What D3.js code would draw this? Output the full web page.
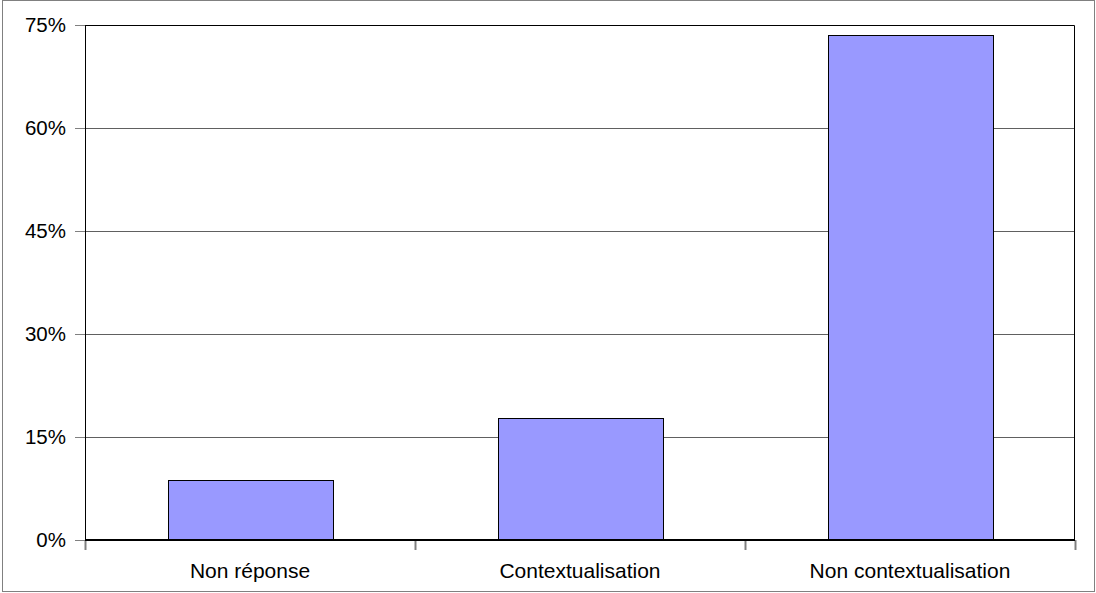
<!DOCTYPE html>
<html>
<head>
<meta charset="utf-8">
<script src="https://cdn.jsdelivr.net/npm/d3@7"></script>
<style>
  body { margin: 0; background: #fff; }
  svg { display: block; font-family: "Liberation Sans", Arial, sans-serif; }
</style>
</head>
<body>
<svg id="chart" width="1096" height="593"></svg>
<script>
// values, in %
var categories = ["Non réponse", "Contextualisation", "Non contextualisation"];
var values = [8.8, 17.7, 73.5];
var yTicks = [0, 15, 30, 45, 60, 75];

var width = 1096, height = 593;
var margin = {top: 25, right: 21, bottom: 53, left: 85};
var plotW = width - margin.left - margin.right;
var plotH = height - margin.top - margin.bottom;

var svg = d3.select("#chart");

// outer frame
svg.append("rect")
    .attr("x", 2.5).attr("y", 0.5)
    .attr("width", 1092).attr("height", 591)
    .attr("fill", "none")
    .attr("stroke", "#808080");

var g = svg.append("g")
    .attr("transform", "translate(" + margin.left + "," + margin.top + ")");

var xScale = d3.scaleBand()
    .domain(categories)
    .range([0, plotW])
    .paddingInner(0.5)
    .paddingOuter(0.25);

var yScale = d3.scaleLinear()
    .domain([0, 75])
    .range([plotH, 0]);

// gridlines
g.selectAll(".grid")
    .data(yTicks.slice(1, -1))
  .enter().append("line")
    .attr("class", "grid")
    .attr("x1", 0).attr("x2", plotW)
    .attr("y1", function(d) { return Math.round(yScale(d)) + 0.5; })
    .attr("y2", function(d) { return Math.round(yScale(d)) + 0.5; })
    .attr("stroke", "#606060");

// plot border top + right
g.append("path")
    .attr("d", "M0.5,0.5 H" + (plotW - 0.5) + " V" + plotH)
    .attr("fill", "none")
    .attr("stroke", "#000");

// bars
g.selectAll(".bar")
    .data(values)
  .enter().append("rect")
    .attr("class", "bar")
    .attr("x", function(d, i) { return Math.round(xScale(categories[i])) + 0.5; })
    .attr("y", function(d) { return Math.round(yScale(d)) + 0.5; })
    .attr("width", Math.round(xScale.bandwidth()))
    .attr("height", function(d) { return plotH - Math.round(yScale(d)); })
    .attr("fill", "#9999FF")
    .attr("stroke", "#000");

// y axis
var yAxis = g.append("g")
    .attr("class", "y_axis")
    .call(d3.axisLeft(yScale)
      .tickValues(yTicks)
      .tickSize(10)
      .tickPadding(9)
      .tickFormat(function(d) { return d + "%"; }));
yAxis.select(".domain").attr("stroke", "#000").attr("d", "M0.5,0V" + plotH);
yAxis.selectAll(".tick line").attr("stroke", "#808080");
yAxis.selectAll(".tick text")
    .attr("fill", "#000")
    .style("font-size", "20.5px")
    .style("font-family", "Liberation Sans, Arial, sans-serif");

// x axis: ticks at category boundaries
var bounds = d3.range(categories.length + 1).map(function(i) { return i * plotW / categories.length; });
var xAxis = g.append("g")
    .attr("class", "x_axis")
    .attr("transform", "translate(0," + plotH + ")");
xAxis.selectAll(".tick")
    .data(bounds)
  .enter().append("line")
    .attr("x1", function(d) { return Math.round(d) + 0.5; })
    .attr("x2", function(d) { return Math.round(d) + 0.5; })
    .attr("y1", 0).attr("y2", 10)
    .attr("stroke", "#808080")
    .attr("stroke-width", 2);
xAxis.append("line")
    .attr("x1", 0).attr("x2", plotW)
    .attr("y1", 0).attr("y2", 0)
    .attr("stroke", "#000")
    .attr("stroke-width", 2);
xAxis.selectAll(".label")
    .data(categories)
  .enter().append("text")
    .attr("class", "label")
    .attr("x", function(d) { return xScale(d) + xScale.bandwidth() / 2; })
    .attr("y", 38)
    .attr("text-anchor", "middle")
    .style("font-size", "21px")
    .text(function(d) { return d; });
</script>
</body>
</html>
